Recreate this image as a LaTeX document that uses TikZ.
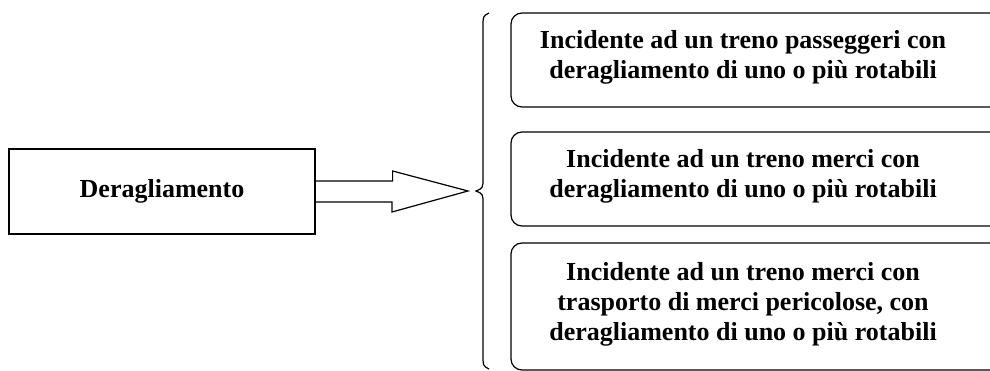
\documentclass[tikz,border=0pt]{standalone}
\usepackage{fontspec}
\setmainfont{Liberation Serif}
\usetikzlibrary{positioning}
\usetikzlibrary{calc}

\begin{document}
\begin{tikzpicture}[x=1pt,y=-1pt,
	every node/.style={font=\fontsize{26}{30}\selectfont\bfseries},
	mainbox/.style={draw,line width=1.2pt,minimum width=306pt,minimum height=85pt},
	casebox/.style={draw,line width=1.2pt,rounded corners=11pt,minimum width=494pt},
	casetext/.style={align=center,inner sep=0pt}]
	\path[use as bounding box,clip] (0,0) rectangle (990,371);
	\node[mainbox] (derail) at (162,191.5) {Deragliamento};
	\draw[line width=1.2pt,line join=miter]
		($(derail.east)+(0,-10.5)$) -- ++(77,0) -- ++(0,-10) -- (468,191)
		-- ++(-76,21) -- ++(0,-10) -- ($(derail.east)+(0,10.5)$);
	\draw[line width=1.2pt] (489,13) .. controls (483,16) .. (483,28) -- (483,178)
		.. controls (483,188) .. (476,191) .. controls (483,194) .. (483,204)
		-- (483,354) .. controls (483,366) .. (489,369);
	\node[casebox,minimum height=94pt] (pass) at (758,60) {};
	\node[casebox,minimum height=94pt] (goods) at (758,179) {};
	\node[casebox,minimum height=127pt] (danger) at (758,306.5) {};
	\node[casetext] (passtxt) at (743,57.5) {Incidente ad un treno passeggeri con\\deragliamento di uno o più rotabili};
	\node[casetext] (goodstxt) at (743,176.5) {Incidente ad un treno merci con\\deragliamento di uno o più rotabili};
	\node[casetext] (dangertxt) at (743,304) {Incidente ad un treno merci con\\trasporto di merci pericolose, con\\deragliamento di uno o più rotabili};
\end{tikzpicture}
\end{document}
